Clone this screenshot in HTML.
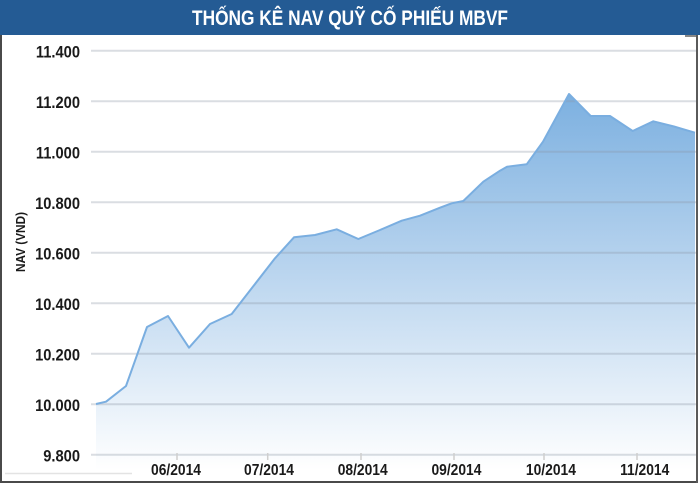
<!DOCTYPE html>
<html>
<head>
<meta charset="utf-8">
<style>
  html, body { margin:0; padding:0; background:#ffffff; }
  body { width:700px; height:487px; overflow:hidden; }
  svg { display:block; }
  text { font-family: "Liberation Sans", "Noto Sans CJK SC", sans-serif; font-weight:bold; }
</style>
</head>
<body>
<svg width="700" height="487" viewBox="0 0 700 487" xmlns="http://www.w3.org/2000/svg">
  <defs>
    <linearGradient id="fillg" gradientUnits="userSpaceOnUse" x1="0" y1="94" x2="0" y2="470">
      <stop offset="0" stop-color="#7cb0e0"/>
      <stop offset="0.55" stop-color="#c4dbf1"/>
      <stop offset="1" stop-color="#ffffff"/>
    </linearGradient>
  </defs>

  <!-- background -->
  <rect x="0" y="0" width="700" height="487" fill="#ffffff"/>

  <!-- header -->
  <rect x="0" y="0" width="700" height="35" fill="#245b94"/>
  <text x="350" y="25" fill="#ffffff" font-size="21" text-anchor="middle" textLength="316" lengthAdjust="spacingAndGlyphs">THỐNG KÊ NAV QUỸ CỐ PHIẾU MBVF</text>
  <rect x="685" y="35" width="12" height="2" fill="#888"/>

  <!-- area fill -->
  <polygon fill="url(#fillg)" points="96,404 106,401.7 126,386 147,327 168,316 189,347.7 210,324 231.7,314 275,258.3 294,237.3 315,235 336.7,229.3 358.3,239 380,230 401.7,220.7 420,215.7 440,207.7 451.7,203.3 463.3,201 483.3,181.7 500,170.7 507,166.7 526.7,164.3 543,141.7 569,94 590.7,116 610,116 632.7,131 653.3,121.3 674,126.5 695,132.7 695,470 96,470"/>

  <!-- gridlines -->
  <g stroke="rgba(140,150,165,0.32)" stroke-width="2">
    <line x1="91" y1="50.8" x2="696" y2="50.8"/>
    <line x1="91" y1="101.3" x2="696" y2="101.3"/>
    <line x1="91" y1="151.8" x2="696" y2="151.8"/>
    <line x1="91" y1="202.3" x2="696" y2="202.3"/>
    <line x1="91" y1="252.8" x2="696" y2="252.8"/>
    <line x1="91" y1="303.3" x2="696" y2="303.3"/>
    <line x1="91" y1="353.8" x2="696" y2="353.8"/>
    <line x1="91" y1="404.3" x2="696" y2="404.3"/>
    <line x1="91" y1="454.8" x2="696" y2="454.8"/>
  </g>
  <!-- ticks -->
  <g stroke="#cfcfcf" stroke-width="1.5">
    <line x1="177" y1="453" x2="177" y2="460"/>
    <line x1="267.7" y1="453" x2="267.7" y2="460"/>
    <line x1="361" y1="453" x2="361" y2="460"/>
    <line x1="454" y1="453" x2="454" y2="460"/>
    <line x1="544" y1="453" x2="544" y2="460"/>
    <line x1="637" y1="453" x2="637" y2="460"/>
  </g>

  <!-- series line -->
  <polyline fill="none" stroke="#7aaee0" stroke-width="2" stroke-linejoin="round" points="96,404 106,401.7 126,386 147,327 168,316 189,347.7 210,324 231.7,314 275,258.3 294,237.3 315,235 336.7,229.3 358.3,239 380,230 401.7,220.7 420,215.7 440,207.7 451.7,203.3 463.3,201 483.3,181.7 500,170.7 507,166.7 526.7,164.3 543,141.7 569,94 590.7,116 610,116 632.7,131 653.3,121.3 674,126.5 695,132.7"/>

  <!-- y labels -->
  <g transform="scale(0.865,1)" fill="#1a1a1a" font-size="17" text-anchor="end">
    <text x="92.5" y="57.3">11.400</text>
    <text x="92.5" y="107.8">11.200</text>
    <text x="92.5" y="158.3">11.000</text>
    <text x="92.5" y="208.8">10.800</text>
    <text x="92.5" y="259.3">10.600</text>
    <text x="92.5" y="309.8">10.400</text>
    <text x="92.5" y="360.3">10.200</text>
    <text x="92.5" y="410.8">10.000</text>
    <text x="92.5" y="461.3">9.800</text>
  </g>

  <!-- x labels -->
  <g transform="scale(0.865,1)" fill="#1a1a1a" font-size="16" text-anchor="middle">
    <text x="203.5" y="475">06/2014</text>
    <text x="311" y="475">07/2014</text>
    <text x="419.3" y="475">08/2014</text>
    <text x="527.7" y="475">09/2014</text>
    <text x="636.9" y="475">10/2014</text>
    <text x="745.3" y="475">11/2014</text>
  </g>

  <!-- y-axis title -->
  <text transform="translate(25,242) rotate(-90)" fill="#1a1a1a" font-size="13" text-anchor="middle" textLength="60" lengthAdjust="spacingAndGlyphs">NAV (VND)</text>

  <!-- stray light line -->
  <line x1="5" y1="473.5" x2="132" y2="473.5" stroke="#e3e3e3" stroke-width="1.5"/>

  <!-- borders -->
  <rect x="0" y="35" width="2" height="448" fill="#4a4a4a"/>
  <rect x="0" y="481" width="698" height="2" fill="#4a4a4a"/>
  <rect x="696" y="35" width="2" height="448" fill="#5a5a5a"/>
</svg>
</body>
</html>
